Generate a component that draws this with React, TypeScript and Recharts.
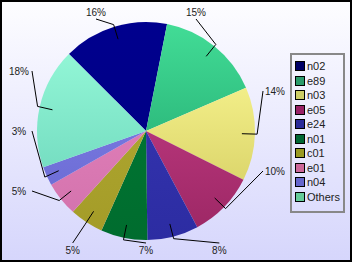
import { PieChart, Pie, Cell, Legend } from "recharts"

const categories = ["n02", "e89", "n03", "e05", "e24", "n01", "c01", "e01", "n04", "Others"]
const shares = [15.6, 15.4, 13.9, 9.8, 7.6, 6.9, 5.0, 5.1, 2.8, 17.9]

const sliceTop = ["#00008e", "#42dc96", "#f2ee88", "#b43478", "#3232ac", "#007432", "#aca42e", "#de7cb6", "#7676de", "#92f6d6"]
const sliceBottom = ["#000086", "#2ebc7e", "#dcd66c", "#9e2866", "#2c2ca2", "#006c2e", "#a49c28", "#d474ae", "#6e6ed6", "#76dec2"]
const legendColors = ["#000066", "#2b9b6b", "#cccc66", "#992266", "#2b2b99", "#006633", "#999922", "#cc6699", "#6666cc", "#66cc99"]

const data = categories.map((name, i) => ({ name, value: shares[i] }))

const W = 352
const H = 262
const CX = 146
const CY = 131
const R = 109
const RAD = Math.PI / 180
const FONT = "'Liberation Sans', Arial, sans-serif"

// put each label on one side of a box round the pie, spread evenly along that side
type Side = "top" | "right" | "bottom" | "left"
function layoutLabels() {
  const total = shares.reduce((a, b) => a + b, 0)
  let start = 135
  const mids = shares.map((v) => {
    const span = (v / total) * 360
    const m = start - span / 2
    start -= span
    let a = m
    while (a <= -180) a += 360
    while (a > 180) a -= 360
    return a
  })
  const sideOf = (a: number): Side => {
    if (a > 45 && a <= 135) return "top"
    if (a > -50 && a <= 45) return "right"
    if (a > -135 && a <= -50) return "bottom"
    return "left"
  }
  const out: { x: number; y: number; side: Side }[] = []
  const groups: Record<Side, number[]> = { top: [], right: [], bottom: [], left: [] }
  mids.forEach((a, i) => groups[sideOf(a)].push(i))
  const pos = (a: number) => (a < 0 ? a + 360 : a)
  groups.top.sort((p, q) => mids[q] - mids[p])
  groups.right.sort((p, q) => mids[q] - mids[p])
  groups.bottom.sort((p, q) => mids[p] - mids[q])
  groups.left.sort((p, q) => pos(mids[p]) - pos(mids[q]))
  ;(Object.keys(groups) as Side[]).forEach((side) => {
    const g = groups[side]
    const n = g.length
    const horiz = side === "top" || side === "bottom"
    const step = horiz ? Math.min(100, 220 / n) : Math.min(80, 180 / n)
    g.forEach((idx, k) => {
      const off = (k - (n - 1) / 2) * step
      if (side === "top") out[idx] = { x: CX + off, y: 12, side }
      if (side === "bottom") out[idx] = { x: CX + off, y: 250, side }
      if (side === "right") out[idx] = { x: 275, y: CY + off, side }
      if (side === "left") out[idx] = { x: 19, y: CY + off, side }
    })
  })
  return out
}

const labelPos = layoutLabels()

function renderLabel(props: any) {
  const { cx, cy, midAngle, outerRadius, percent, index } = props
  const c = Math.cos(-midAngle * RAD)
  const s = Math.sin(-midAngle * RAD)
  const p1 = [cx + outerRadius * 0.88 * c, cy + outerRadius * 0.88 * s]
  const p2 = [cx + outerRadius * 1.02 * c, cy + outerRadius * 1.02 * s]
  const lp = labelPos[index]
  let p3 = [lp.x, lp.y]
  if (lp.side === "top") p3 = [lp.x, lp.y + 7]
  if (lp.side === "bottom") p3 = [lp.x, lp.y - 7]
  if (lp.side === "left") p3 = [lp.x + 13, lp.y]
  if (lp.side === "right") p3 = [lp.x - 12, lp.y]
  return (
    <g key={`lbl-${index}`}>
      <polyline
        points={`${p1[0]},${p1[1]} ${p2[0]},${p2[1]} ${p3[0]},${p3[1]}`}
        fill="none"
        stroke="#000"
        strokeWidth={1}
      />
      <text
        x={lp.x}
        y={lp.y}
        textAnchor="middle"
        dominantBaseline="central"
        fontSize={10}
        fontFamily={FONT}
        fill="#222"
      >
        {`${Math.round(percent * 100)}%`}
      </text>
    </g>
  )
}

function renderLegend() {
  return (
    <div
      style={{
        width: 51,
        height: 152,
        border: "2px solid #888",
        paddingTop: 4,
        boxSizing: "content-box",
        fontFamily: FONT,
        fontSize: 11,
        color: "#222",
      }}
    >
      {categories.map((name, i) => (
        <div key={name} style={{ display: "flex", alignItems: "center", height: 14.5, paddingLeft: 3 }}>
          <span
            style={{
              width: 8,
              height: 8,
              background: legendColors[i],
              border: "1px solid #000",
              marginRight: 2,
              display: "inline-block",
            }}
          />
          <span>{name}</span>
        </div>
      ))}
    </div>
  )
}

export default function App() {
  return (
    <div
      style={{
        position: "fixed",
        left: 0,
        top: 0,
        width: W,
        height: H,
        boxSizing: "border-box",
        border: "2px solid #000",
        background: "linear-gradient(to bottom, #fdfdff 0%, #d6d6fc 100%)",
      }}
    >
      <div style={{ position: "absolute", left: -2, top: -2 }}>
        <PieChart width={W} height={H} margin={{ top: 0, right: 0, bottom: 0, left: 0 }}>
          <defs>
            {categories.map((name, i) => (
              <linearGradient key={name} id={`g-${i}`} x1="0" y1="0" x2="0" y2="1">
                <stop offset="0%" stopColor={sliceTop[i]} />
                <stop offset="100%" stopColor={sliceBottom[i]} />
              </linearGradient>
            ))}
          </defs>
          <Pie
            data={data}
            dataKey="value"
            nameKey="name"
            cx={CX}
            cy={CY}
            outerRadius={R}
            startAngle={135}
            endAngle={-225}
            stroke="none"
            labelLine={false}
            label={renderLabel}
            isAnimationActive={false}
          >
            {data.map((d, i) => (
              <Cell key={d.name} fill={`url(#g-${i})`} />
            ))}
          </Pie>
          <Legend
            content={renderLegend}
            wrapperStyle={{ position: "absolute", left: 290, top: 53, width: "auto", height: "auto" }}
          />
        </PieChart>
      </div>
    </div>
  )
}
